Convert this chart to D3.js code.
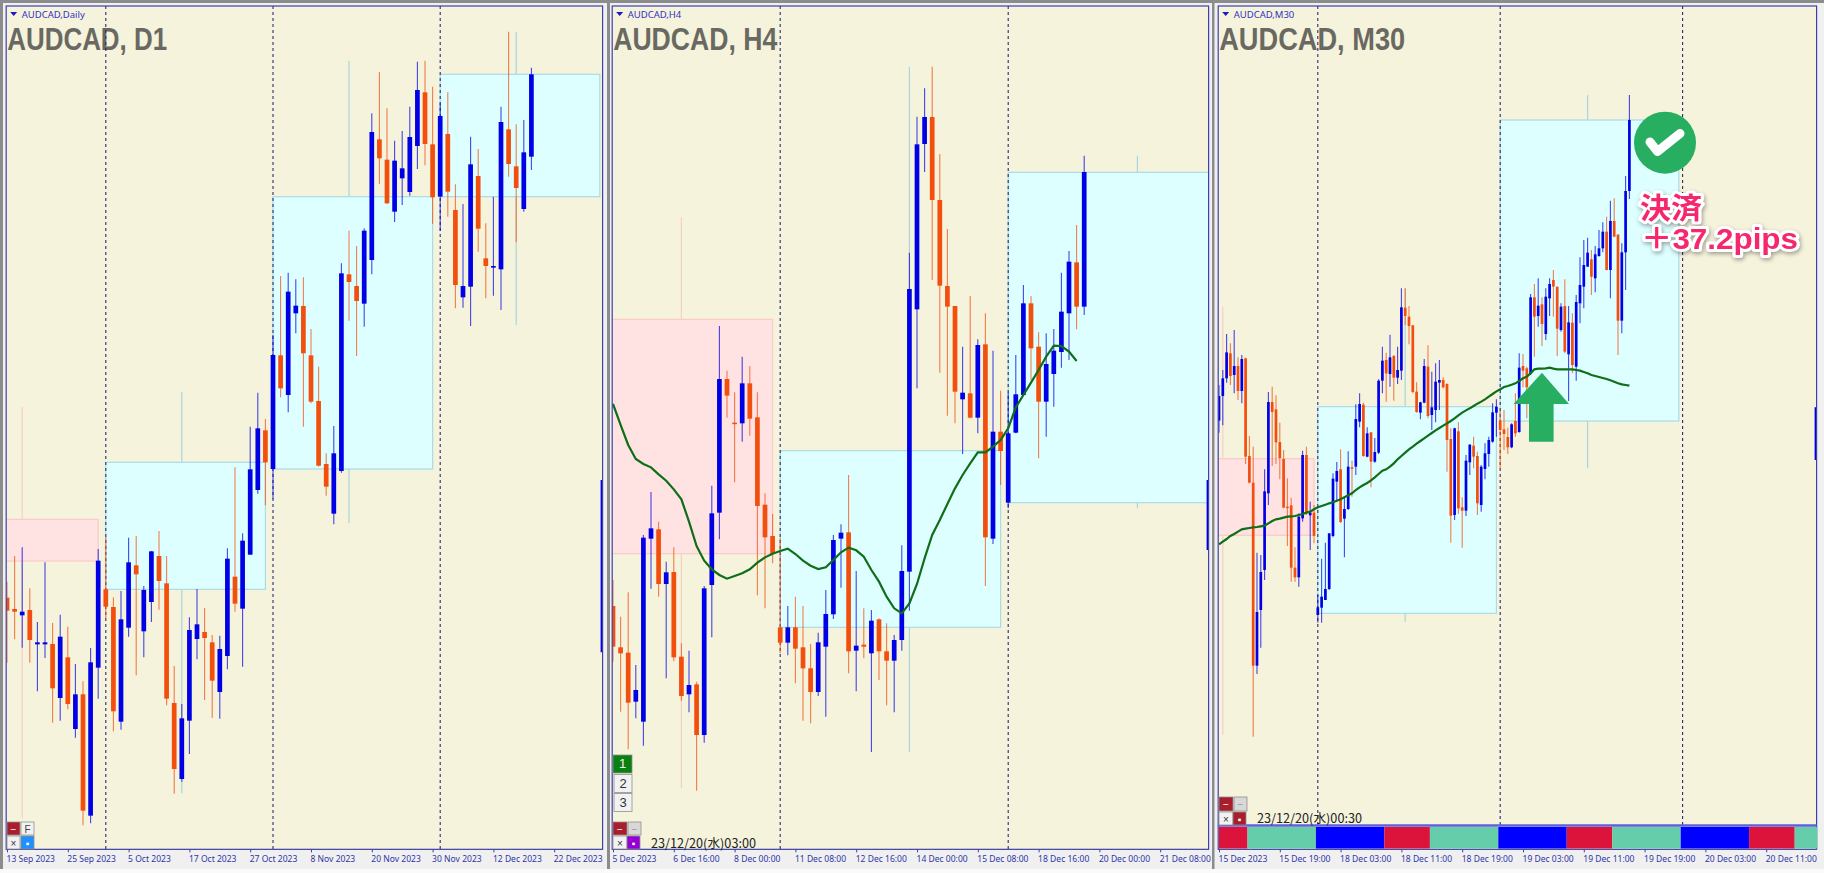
<!DOCTYPE html>
<html>
<head>
<meta charset="utf-8">
<title>AUDCAD</title>
<script src="https://cdn.jsdelivr.net/npm/d3@7"></script>
<style>
  html, body { margin: 0; padding: 0; background: #f0f0f0; overflow: hidden; }
  svg { display: block; }
  .tick text { font-family: "Noto Sans", sans-serif; font-size: 9.6px; fill: #2f35a8; }
  .tick line, .domain { stroke: #3c40a8; }
</style>
</head>
<body>
<svg id="chart" width="1824" height="873"></svg>
<script>
// bars are [open, high, low, close], in points above the floor of each panel (no price scale on the picture)
var d1Bars = [
  [755,803,560,716],[721,880,630,713],[702,906,605,713],[718,783,560,628],[615,682,474,621],[615,861,574,621],
  [616,679,380,483],[454,704,386,638],[576,668,420,436],[361,556,335,465],[465,504,72,116],[101,604,78,561],
  [545,901,452,866],[780,936,693,728],[727,756,354,414],[383,775,359,690],[665,935,638,861],[852,940,522,825],
  [654,790,576,778],[742,895,682,894],[880,955,719,805],[798,880,432,452],[439,550,167,241],[211,436,203,393],
  [386,696,286,658],[631,781,570,675],[652,724,448,634],[621,643,394,506],[472,641,392,601],[580,903,540,872],
  [818,1146,713,737],[722,948,548,926],[884,1268,884,1140],[1078,1370,1067,1263],[1257,1291,1032,1161],[1141,1543,1052,1483],
  [1482,1720,1356,1383],[1363,1730,1311,1673],[1608,1710,1548,1631],[1630,1716,1268,1488],[1482,1561,1338,1343],[1345,1448,1148,1151],
  [1156,1188,1061,1088],[1007,1270,975,1188],[1135,1758,1130,1728],[1725,1856,1586,1702],[1690,1810,1480,1645],[1637,1863,1568,1856],
  [1768,2208,1725,2152],[2130,2332,1996,2073],[2069,2223,1936,1938],[1913,2126,1882,2066],[2013,2155,1933,2043],[1972,2228,1961,2137],
  [2110,2363,2041,2278],[2271,2366,2052,2116],[2115,2288,1876,1956],[1958,2238,1856,2200],[2146,2271,1898,1973],[1918,1995,1623,1693],
  [1656,1936,1625,1690],[1688,2138,1570,2055],[2020,2101,1793,1862],[1773,1878,1653,1750],[1745,1958,1661,1750],[1740,2228,1618,2182],
  [2160,2453,2018,2056],[2049,2175,1821,1984],[1921,2188,1913,2091],[2078,2345,2038,2325]
];
var h4Bars = [
  [730,808,563,608],[606,698,413,588],[590,771,300,440],[443,553,393,478],[383,943,311,935],[932,1072,782,963],
  [960,983,758,796],[796,863,513,831],[832,906,564,576],[578,618,445,460],[465,596,411,493],[495,503,176,343],
  [343,790,320,783],[793,1091,636,1008],[1010,1570,930,1411],[1411,1436,1295,1361],[1280,1371,1101,1277],[1278,1478,1223,1398],
  [1398,1450,1241,1292],[1296,1371,762,1030],[1034,1068,723,936],[940,1006,858,886],[666,933,588,620],[620,730,582,666],
  [666,758,498,602],[606,730,386,543],[543,616,378,472],[472,650,460,621],[608,778,398,706],[705,943,691,928],
  [932,975,785,950],[951,1123,528,594],[596,835,474,611],[614,723,573,608],[588,718,292,686],[690,693,508,594],
  [594,678,432,566],[566,643,411,628],[628,912,596,835],[833,1790,716,1681],[1620,2198,1383,2115],[2116,2283,2032,2197],
  [2197,2348,1708,1948],[1948,2086,1430,1691],[1690,1861,1301,1628],[1630,1630,1278,1373],[1350,1508,1186,1370],[1368,1660,1293,1295],
  [1295,1530,1248,1513],[1515,1608,790,936],[932,1496,916,1253],[1253,1376,1093,1195],[1040,1370,1023,1248],[1250,1483,1248,1365],
  [1363,1693,1361,1638],[1638,1660,1408,1503],[1508,1551,1173,1343],[1343,1548,1238,1456],[1426,1561,1328,1496],[1492,1730,1445,1613],
  [1608,1795,1468,1763],[1761,1873,1560,1628],[1628,2081,1603,2032]
];
var m30Bars = [
  [1286,1393,1250,1360],[1360,1438,1272,1413],[1413,1546,1400,1491],[1488,1518,1393,1420],[1423,1558,1368,1450],[1450,1476,1348,1375],
  [1375,1483,1338,1471],[1473,1475,1156,1178],[1180,1240,1098,1100],[1100,1208,338,551],[551,890,526,712],[718,883,605,832],
  [838,1140,808,1074],[1068,1372,1033,1342],[1342,1388,1150,1312],[1320,1362,1156,1221],[1222,1280,1110,1174],[1171,1198,1023,1025],
  [1028,1113,910,1025],[1032,1055,803,845],[845,906,803,816],[816,1008,788,998],[993,1196,983,1183],[1183,1208,1003,1010],
  [1002,1043,898,1010],[1010,1033,918,940],[703,763,680,726],[725,872,680,758],[748,920,748,781],[781,948,778,948],
  [940,1128,936,1112],[1103,1162,1048,1135],[1140,1200,978,982],[992,1058,876,1021],[1021,1194,1018,1148],[1146,1166,1058,1143],
  [1148,1335,1123,1291],[1283,1368,1266,1336],[1334,1340,1178,1180],[1178,1266,1176,1248],[1251,1252,1086,1163],[1163,1234,1160,1192],
  [1190,1410,1186,1406],[1406,1508,1368,1466],[1468,1490,1343,1428],[1426,1544,1388,1476],[1480,1483,1346,1415],[1415,1508,1396,1438],
  [1436,1683,1408,1626],[1625,1683,1573,1600],[1598,1630,1515,1570],[1572,1573,1368,1372],[1373,1401,1310,1312],[1310,1343,1290,1341],
  [1340,1471,1338,1450],[1448,1512,1293,1300],[1303,1433,1258,1326],[1318,1458,1281,1403],[1400,1468,1318,1408],[1408,1416,1383,1386],
  [1396,1398,1133,1228],[1231,1263,920,1001],[1003,1265,988,1263],[1254,1281,1006,1023],[1026,1056,905,1016],[1016,1183,1000,1166],
  [1161,1215,1123,1214],[1211,1238,1143,1178],[1180,1193,1003,1038],[1033,1153,1013,1148],[1141,1218,1110,1188],[1186,1238,1148,1228],
  [1223,1338,1220,1311],[1310,1350,1238,1328],[1286,1318,1140,1258],[1260,1318,1198,1246],[1237,1265,1186,1206],[1206,1278,1203,1275],
  [1285,1368,1238,1248],[1252,1488,1250,1445],[1450,1486,1386,1436],[1443,1448,1293,1386],[1428,1666,1423,1656],[1656,1696,1478,1598],
  [1600,1713,1568,1631],[1635,1656,1510,1576],[1546,1683,1528,1658],[1653,1713,1600,1696],[1708,1738,1598,1688],[1688,1688,1480,1562],
  [1558,1638,1553,1628],[1630,1710,1488,1493],[1485,1630,1345,1581],[1580,1608,1428,1453],[1448,1663,1406,1642],[1638,1776,1578,1693],
  [1688,1828,1623,1753],[1748,1835,1748,1790],[1770,1798,1663,1718],[1713,1810,1671,1785],[1780,1858,1778,1803],[1803,1881,1791,1853],
  [1853,1898,1737,1738],[1738,1946,1653,1885],[1885,1953,1836,1838],[1844,1846,1483,1586],[1586,1818,1548,1791],[1791,2020,1678,1975],
  [1975,2263,1951,2188]
];

// moving average, one value a bar
var h4Ma = [1336,1273,1213,1171,1156,1146,1125,1106,1080,1050,983,910,866,840,823,812,820,828,840,860,876,887,895,902,886,866,851,841,846,868,891,905,897,878,838,803,758,723,708,738,796,873,943,988,1036,1083,1123,1158,1191,1191,1208,1228,1263,1326,1363,1400,1438,1478,1511,1510,1493,1465];
var m30Ma = [915,923,931,940,946,953,960,962,964,966,967,969,971,978,985,990,992,995,998,999,1000,1003,1006,1010,1013,1020,1026,1030,1034,1038,1041,1046,1050,1056,1062,1068,1078,1086,1093,1099,1107,1116,1126,1136,1140,1148,1158,1170,1180,1190,1200,1208,1217,1225,1233,1241,1249,1257,1264,1271,1278,1285,1293,1302,1310,1317,1323,1330,1337,1343,1350,1358,1366,1374,1380,1387,1390,1394,1398,1405,1413,1418,1428,1440,1442,1442,1443,1445,1442,1440,1440,1440,1440,1440,1438,1436,1432,1428,1423,1420,1417,1414,1411,1407,1403,1398,1395,1393,1391];

// higher timeframe candles behind the bars: [first bar, last bar, wick bar, open, high, low, close]
var d1Boxes = [[-8,12,2,990,1328,93,865],[13,34,23,780,1373,168,1161],[35,56,45,1141,2366,978,1958],[57,78,67,1958,2453,1573,2325]];
var h4Boxes = [[-8,21,9,1590,1896,183,887],[22,51,39,666,2348,293,1196],[52,80,69,1040,2081,1023,2031]];
var m30Boxes = [[-22,25,1,1172,1628,343,942],[26,73,49,708,1683,683,1328],[74,121,97,1285,2263,1143,2188]];

var d1Separators = [13,35,57];
var h4Separators = [22,52];
var m30Separators = [26,74,122];

var d1Edge = [1108,591];
var h4Edge = [1108,898];
var m30Edge = [1326,1168];

var d1Labels = ["13 Sep 2023","25 Sep 2023","5 Oct 2023","17 Oct 2023","27 Oct 2023","8 Nov 2023","20 Nov 2023","30 Nov 2023","12 Dec 2023","22 Dec 2023"];
var h4Labels = ["5 Dec 2023","6 Dec 16:00","8 Dec 00:00","11 Dec 08:00","12 Dec 16:00","14 Dec 00:00","15 Dec 08:00","18 Dec 16:00","20 Dec 00:00","21 Dec 08:00"];
var m30Labels = ["15 Dec 2023","15 Dec 19:00","18 Dec 03:00","18 Dec 11:00","18 Dec 19:00","19 Dec 03:00","19 Dec 11:00","19 Dec 19:00","20 Dec 03:00","20 Dec 11:00"];

// session strip under the M30 bars, lengths in bars
var sessionLengths = [7.5,18,18,12,18,18,12,18,18,12,6];
var sessionNames = ["red","green","blue","red","green","blue","red","green","blue","red","green"];
var sessionColor = d3.scaleOrdinal().domain(["red","green","blue"]).range(["#dc143c","#66cdaa","#0000ff"]);

var upColor = "#0000e6";
var downColor = "#f24e0e";
var svg = d3.select("#chart");
var bgColor = "#f5f3dc";

// window chrome
svg.append("rect").attr("x", 0).attr("y", 0).attr("width", 1824).attr("height", 3).attr("fill", "#8c8c8c");
[[0,3],[607,3],[1212,2.5]].forEach(function(d) {
  svg.append("rect").attr("x", d[0]).attr("y", 0).attr("width", d[1]).attr("height", 869).attr("fill", "#8c8c8c");
});
svg.append("rect").attr("x", 0).attr("y", 869).attr("width", 1824).attr("height", 4).attr("fill", "#fafafa");

function button(g, x, y, w, h, fill, label, labelColor) {
  g.append("rect").attr("x", x).attr("y", y).attr("width", w).attr("height", h)
    .attr("fill", fill).attr("stroke", "#8f8f8f").attr("stroke-width", 0.8);
  if (label) {
    g.append("text").text(label).attr("x", x + w / 2).attr("y", y + h / 2 + 4)
      .attr("text-anchor", "middle").attr("fill", labelColor || "#333")
      .style("font-family", "'Liberation Sans', sans-serif").style("font-size", (h > 15 ? 13 : 10) + "px");
  }
}

var drawPanel = function(p) {
  var g = svg.append("g").attr("class", "panel");
  var clipId = "clip-" + p.id;

  var x = d3.scaleLinear().domain([0, 1]).range([p.x0, p.x0 + p.step]);
  var y = d3.scaleLinear().domain([0, 2530]).range([849.33, 6]);

  g.append("rect")
    .attr("x", p.left).attr("y", 6)
    .attr("width", p.right - p.left).attr("height", p.bottom - 6)
    .attr("fill", bgColor);

  g.append("clipPath").attr("id", clipId).append("rect")
    .attr("x", p.left).attr("y", 6)
    .attr("width", p.right - p.left).attr("height", p.bottom - 6);

  var plot = g.append("g").attr("clip-path", "url(#" + clipId + ")");

  // big title goes under everything
  plot.append("text")
    .text(p.title)
    .attr("x", p.left + 1).attr("y", 50)
    .attr("textLength", p.titleWidth).attr("lengthAdjust", "spacingAndGlyphs")
    .attr("fill", "#696962")
    .style("font-family", "'Liberation Sans', sans-serif")
    .style("font-weight", "bold")
    .style("font-size", "32px");

  // higher timeframe boxes
  var box = plot.selectAll("g.box").data(p.boxes).enter().append("g").attr("class", "box");
  var isUp = function(d) { return d[6] > d[3]; };
  box.append("line")
    .attr("x1", function(d) { return x(d[2]); }).attr("x2", function(d) { return x(d[2]); })
    .attr("y1", function(d) { return y(d[4]); }).attr("y2", function(d) { return y(d[5]); })
    .attr("stroke", function(d) { return isUp(d) ? "#a9d6de" : "#f8cfc4"; })
    .attr("stroke-width", 1.2);
  box.append("rect")
    .attr("x", function(d) { return x(d[0]); })
    .attr("width", function(d) { return x(d[1]) - x(d[0]); })
    .attr("y", function(d) { return y(Math.max(d[3], d[6])); })
    .attr("height", function(d) { return Math.abs(y(d[3]) - y(d[6])); })
    .attr("fill", function(d) { return isUp(d) ? "#deffff" : "#ffe2e2"; })
    .attr("stroke", function(d) { return isUp(d) ? "#aadbe6" : "#fccaca"; })
    .attr("stroke-width", 1.2);

  // period separators
  plot.selectAll("line.sep").data(p.separators).enter().append("line")
    .attr("class", "sep")
    .attr("x1", function(d) { return x(d); }).attr("x2", function(d) { return x(d); })
    .attr("y1", 6).attr("y2", p.bottom)
    .attr("stroke", "#2a2a78").attr("stroke-width", 1.1)
    .attr("stroke-dasharray", "3,3");

  // bars
  var barColor = function(d) { return d[3] >= d[0] ? upColor : downColor; };
  var bars = plot.selectAll("g.bar").data(p.bars).enter().append("g").attr("class", "bar");
  bars.append("line")
    .attr("x1", function(d, i) { return x(i); }).attr("x2", function(d, i) { return x(i); })
    .attr("y1", function(d) { return y(d[1]); }).attr("y2", function(d) { return y(d[2]); })
    .attr("stroke", barColor).attr("stroke-width", 1.1).attr("stroke-opacity", 0.72);
  bars.append("rect")
    .attr("x", function(d, i) { return x(i) - p.body / 2; })
    .attr("width", p.body)
    .attr("y", function(d) { return y(Math.max(d[0], d[3])); })
    .attr("height", function(d) { return Math.max(1.5, Math.abs(y(d[0]) - y(d[3]))); })
    .attr("fill", barColor);

  // moving average
  if (p.ma) {
    var maLine = d3.line().x(function(d, i) { return x(i); }).y(function(d) { return y(d); });
    plot.append("path").datum(p.ma)
      .attr("d", maLine).attr("fill", "none")
      .attr("stroke", "#0f6e17").attr("stroke-width", 2.2);
  }

  // sliver of the running bar on the right edge
  plot.append("line")
    .attr("x1", p.right - 0.5).attr("x2", p.right - 0.5)
    .attr("y1", y(p.edge[0])).attr("y2", y(p.edge[1]))
    .attr("stroke", upColor).attr("stroke-width", 3);

  // time axis
  var axisY = 849.33;
  var tickBars = p.labels.map(function(d, i) { return i * 8 * p.tickEvery; });
  var axis = d3.axisBottom(x)
    .tickValues(tickBars)
    .tickSize(3)
    .tickFormat(function(d, i) { return p.labels[i]; });
  var axisG = g.append("g").attr("transform", "translate(0," + axisY + ")").call(axis);
  axisG.select(".domain").remove();
  axisG.selectAll("text")
    .attr("text-anchor", "start").attr("dy", 0).attr("y", 13).attr("x", -1)
    .each(function() {
      // labels are set narrow in the reference
      this.setAttribute("textLength", this.getComputedTextLength() * 0.89);
      this.setAttribute("lengthAdjust", "spacingAndGlyphs");
    });

  // frame
  g.append("rect")
    .attr("x", p.left).attr("y", 6)
    .attr("width", p.right - p.left).attr("height", axisY - 6)
    .attr("fill", "none").attr("stroke", "#3c40a8").attr("stroke-width", 1.2);

  // symbol caption
  g.append("path")
    .attr("d", "M" + (p.left + 4) + ",12 h7 l-3.5,4 z")
    .attr("fill", "#1a1ac0");
  g.append("text").text(p.caption)
    .attr("x", p.left + 15.5).attr("y", 18)
    .attr("fill", "#3232c4")
    .style("font-family", "'Noto Sans', sans-serif")
    .style("font-size", "9.5px");

  return { x: x, y: y, g: g };
};

drawPanel({
  id: "d1", title: "AUDCAD, D1", caption: "AUDCAD,Daily", titleWidth: 160,
  left: 6.2, right: 602.6, bottom: 849.33, x0: 7, step: 7.6, body: 4.7, tickEvery: 1,
  bars: d1Bars, boxes: d1Boxes, separators: d1Separators, labels: d1Labels, edge: d1Edge
});
var h4Panel = drawPanel({
  id: "h4", title: "AUDCAD, H4", caption: "AUDCAD,H4", titleWidth: 164,
  left: 612.2, right: 1208.6, bottom: 849.33, x0: 613, step: 7.6, body: 4.7, tickEvery: 1,
  bars: h4Bars, boxes: h4Boxes, separators: h4Separators, labels: h4Labels, edge: h4Edge, ma: h4Ma
});
var m30Panel = drawPanel({
  id: "m30", title: "AUDCAD, M30", caption: "AUDCAD,M30", titleWidth: 186,
  left: 1218.2, right: 1816.6, bottom: 825, x0: 1219, step: 3.8, body: 2.7, tickEvery: 2,
  bars: m30Bars, boxes: m30Boxes, separators: m30Separators, labels: m30Labels, edge: m30Edge, ma: m30Ma
});

// session strip
var sessionStart = d3.cumsum([0].concat(sessionLengths));
m30Panel.g.selectAll("rect.session").data(sessionNames).enter().append("rect")
  .attr("class", "session")
  .attr("x", function(d, i) { return m30Panel.x(sessionStart[i]); })
  .attr("width", function(d, i) { return m30Panel.x(sessionStart[i + 1]) - m30Panel.x(sessionStart[i]); })
  .attr("y", 827).attr("height", 21.5)
  .attr("fill", function(d) { return sessionColor(d); });
m30Panel.g.append("line")
  .attr("x1", 1218.2).attr("x2", 1816.6).attr("y1", 825.5).attr("y2", 825.5)
  .attr("stroke", "#5f5fdc").attr("stroke-width", 2.4);

// chart buttons
var ui = svg.append("g");
button(ui, 7, 822, 13, 13, "#a81e2c", "−", "#fff");
button(ui, 21, 822, 13, 13, "#f2f2f2", "F", "#444");
button(ui, 7, 836, 13, 13, "#f2f2f2", "×", "#333");
button(ui, 21, 836, 13, 13, "#1e90ff", "▪", "#fff");

button(ui, 613, 755, 19, 18, "#0a8010", "1", "#f4f4f4");
button(ui, 614, 774.5, 18, 18, "#f2f2f2", "2", "#333");
button(ui, 614, 793.5, 18, 18, "#f2f2f2", "3", "#333");
button(ui, 613, 822, 14, 13, "#a81e2c", "−", "#fff");
button(ui, 628, 822, 13, 13, "#d8d8d8", "−", "#999");
button(ui, 613, 836, 14, 13, "#f2f2f2", "×", "#333");
button(ui, 627, 836, 13, 13, "#9400d3", "▪", "#fff");

button(ui, 1219, 797, 14, 14, "#a81e2c", "−", "#fff");
button(ui, 1234, 797, 13, 14, "#d8d8d8", "−", "#999");
button(ui, 1219, 812, 14, 13, "#f2f2f2", "×", "#333");
button(ui, 1233, 812, 13, 13, "#a81e2c", "▪", "#fff");

[["23/12/20(水)03:00", 651, 847.5], ["23/12/20(水)00:30", 1257, 823]].forEach(function(d) {
  ui.append("text").text(d[0])
    .attr("x", d[1]).attr("y", d[2])
    .attr("textLength", 105).attr("lengthAdjust", "spacingAndGlyphs")
    .attr("fill", "#222")
    .style("font-family", "'Noto Sans CJK JP', sans-serif")
    .style("font-size", "12.5px");
});

// trade annotation
var note = svg.append("g");
note.append("path")
  .attr("d", "M1542,372.7 L1569,404 L1553.6,404 L1553.6,441.7 L1529,441.7 L1529,404 L1513.5,404 Z")
  .attr("fill", "#27ae60");
note.append("circle").attr("cx", 1665).attr("cy", 142.7).attr("r", 31).attr("fill", "#27ae60");
note.append("path")
  .attr("d", "M1650,142 L1657.5,151.5 L1680,133.5")
  .attr("fill", "none").attr("stroke", "#fff").attr("stroke-width", 9)
  .attr("stroke-linecap", "round").attr("stroke-linejoin", "round");

[["決済", 1640, 219, 62], ["＋37.2pips", 1641, 249, 157]].forEach(function(d) {
  note.append("text").text(d[0])
    .attr("x", d[1]).attr("y", d[2])
    .attr("textLength", d[3]).attr("lengthAdjust", "spacingAndGlyphs")
    .attr("fill", "#f5286e")
    .attr("stroke", "#fff").attr("stroke-width", 6).attr("paint-order", "stroke")
    .attr("stroke-linejoin", "round")
    .style("filter", "drop-shadow(1px 2px 2px rgba(0,0,0,0.35))")
    .style("font-family", "'Liberation Sans', 'Noto Sans CJK JP', sans-serif")
    .style("font-weight", "bold")
    .style("font-size", "29px");
});
</script>
</body>
</html>
